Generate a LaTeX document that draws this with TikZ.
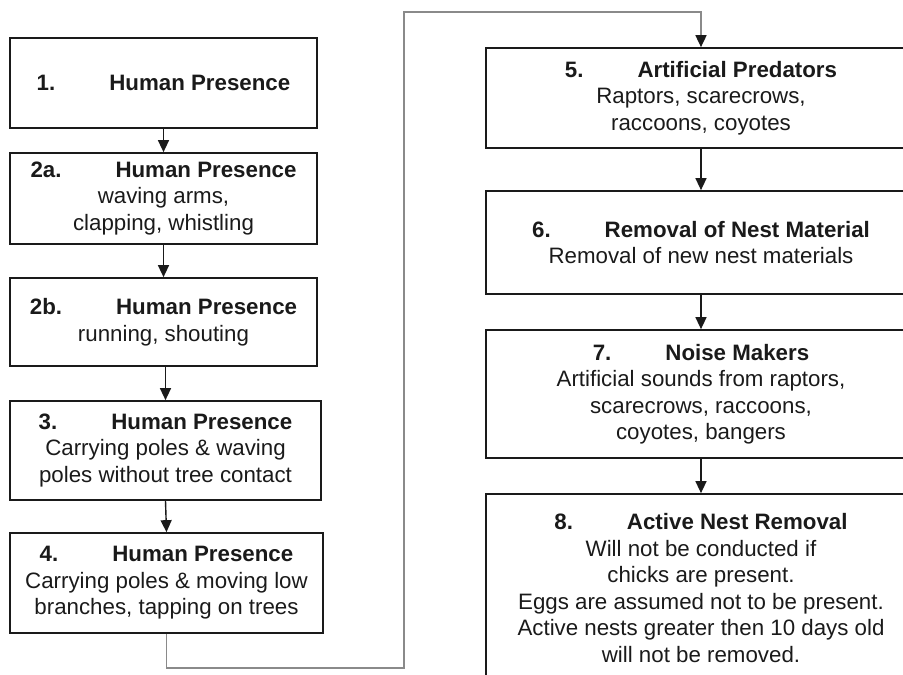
\documentclass[tikz,border=0pt]{standalone}
\usepackage{fontspec}
\setmainfont{Liberation Sans}
\usetikzlibrary{arrows.meta}
\definecolor{ink}{HTML}{1A1A1A}
\definecolor{feedgray}{HTML}{8A8A8A}
\begin{document}
\begin{tikzpicture}[x=1pt,y=1pt,
  box/.style={draw=ink, line width=1.7pt, rectangle, inner sep=0pt, align=center,
    text=ink, font=\fontsize{22.3}{26.5}\selectfont},
  flow/.style={draw=ink, line width=1.4pt, -{Triangle[length=12pt,width=11pt]}},
  feed/.style={draw=feedgray, line width=1.7pt, -{Triangle[length=12pt,width=11pt,color=ink]}},
]
\useasboundingbox (0,0) rectangle (903,-675);
\clip (0,0) rectangle (903,-675);
\newcommand{\ttl}[2]{\textbf{#1\hspace{54pt}#2}}
% left column
\node[box, minimum width=307pt, minimum height=90pt] (b1) at (163.5,-83) {\ttl{1.}{Human Presence}};
\node[box, minimum width=307pt, minimum height=91pt] (b2a) at (163.5,-198.5) {\ttl{2a.}{Human Presence}\\waving arms,\\clapping, whistling};
\node[box, minimum width=307pt, minimum height=88pt] (b2b) at (163.5,-322) {\ttl{2b.}{Human Presence}\\running, shouting};
\node[box, minimum width=311pt, minimum height=99pt] (b3) at (165.5,-450.5) {\ttl{3.}{Human Presence}\\Carrying poles \& waving\\poles without tree contact};
\node[box, minimum width=313pt, minimum height=100pt] (b4) at (166.5,-583) {\ttl{4.}{Human Presence}\\Carrying poles \& moving low\\branches, tapping on trees};
% right column
\node[box, minimum width=430pt, minimum height=100pt] (b5) at (701,-98) {\ttl{5.}{Artificial Predators}\\Raptors, scarecrows,\\raccoons, coyotes};
\node[box, minimum width=430pt, minimum height=103pt] (b6) at (701,-242.5) {\ttl{6.}{Removal of Nest Material}\\Removal of new nest materials};
\node[box, minimum width=430pt, minimum height=128pt] (b7) at (701,-394) {\ttl{7.}{Noise Makers}\\Artificial sounds from raptors,\\scarecrows, raccoons,\\coyotes, bangers};
\node[box, minimum width=430pt, minimum height=188pt] (b8) at (701,-588) {\ttl{8.}{Active Nest Removal}\\Will not be conducted if\\chicks are present.\\Eggs are assumed not to be present.\\Active nests greater then 10 days old\\will not be removed.};
% connectors
\draw[flow] (b1.south) -- (b2a.north);
\draw[flow] (b2a.south) -- (b2b.north);
\draw[flow] (b2b.south -| b3.north) -- (b3.north);
\draw[flow] (b3.south) -- (b4.north);
\coordinate (c1) at (404,-668);
\coordinate (c2) at (701,-12);
\draw[feed] (b4.south) |- (c1) |- (c2) -- (b5.north);
\draw[flow] (b5.south) -- (b6.north);
\draw[flow] (b6.south) -- (b7.north);
\draw[flow] (b7.south) -- (b8.north);
\end{tikzpicture}
\end{document}
